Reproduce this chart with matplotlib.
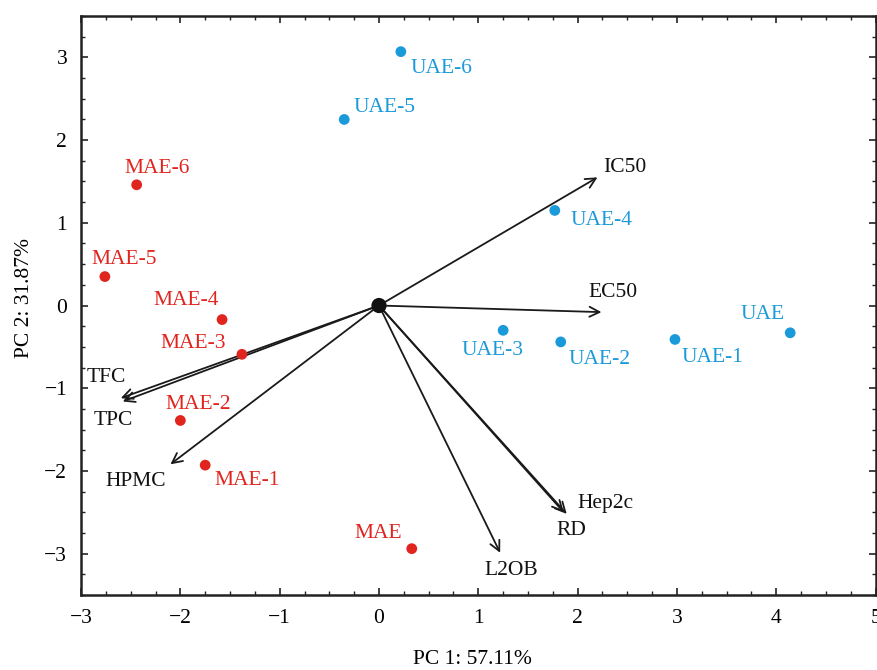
import numpy as np
import matplotlib.pyplot as plt
from matplotlib.ticker import MultipleLocator

plt.rcParams['font.family'] = ['Liberation Serif', 'DejaVu Serif']

# sample scores
mae_names = ['MAE', 'MAE-1', 'MAE-2', 'MAE-3', 'MAE-4', 'MAE-5', 'MAE-6']
mae_x = [0.33, -1.75, -2.0, -1.38, -1.58, -2.76, -2.44]
mae_y = [-2.94, -1.93, -1.39, -0.59, -0.17, 0.35, 1.46]

uae_names = ['UAE', 'UAE-1', 'UAE-2', 'UAE-3', 'UAE-4', 'UAE-5', 'UAE-6']
uae_x = [4.14, 2.98, 1.83, 1.25, 1.77, -0.35, 0.22]
uae_y = [-0.33, -0.41, -0.44, -0.30, 1.15, 2.25, 3.07]

# variable loadings (scaled)
var_names = ['IC50', 'EC50', 'TFC', 'TPC', 'HPMC', 'L2OB', 'Hep2c', 'RD']
var_x = [2.2, 2.24, -2.6, -2.58, -2.1, 1.22, 1.89, 1.86]
var_y = [1.55, -0.08, -1.12, -1.16, -1.92, -2.99, -2.52, -2.5]

# label offsets (data units) from each point / arrow tip
mae_off = [(-0.58, 0.18), (0.09, -0.19), (-0.15, 0.19), (-0.82, 0.13), (-0.69, 0.23), (-0.14, 0.21), (-0.12, 0.2)]
uae_off = [(-0.5, 0.22), (0.07, -0.22), (0.08, -0.21), (-0.42, -0.24), (0.16, -0.12), (0.09, 0.14), (0.1, -0.2)]
var_off = [(0.06, 0.12), (-0.13, 0.24), (-0.34, 0.25), (-0.29, -0.23), (-0.65, -0.21), (-0.16, -0.21), (0.11, 0.13), (-0.07, -0.22)]

red = '#E0251F'
blue = '#1B9AD9'
fs = 15.5

fig = plt.figure(figsize=(8.77, 6.70), dpi=100)
ax = fig.add_axes([0.0924, 0.112, 0.906, 0.864])

for vx, vy in zip(var_x, var_y):
    ax.annotate('', xy=(vx, vy), xytext=(0, 0),
                arrowprops=dict(arrowstyle='->', color='#1a1a1a', lw=1.3,
                                mutation_scale=18, shrinkA=0, shrinkB=0))
for name, vx, vy, (dx, dy) in zip(var_names, var_x, var_y, var_off):
    ax.text(vx + dx, vy + dy, name, fontsize=fs, color='#111111', va='center', ha='left')

ax.scatter(mae_x, mae_y, s=60, color=red, zorder=3, edgecolors='none')
ax.scatter(uae_x, uae_y, s=60, color=blue, zorder=3, edgecolors='none')
ax.scatter([0], [0], s=120, color='#111111', zorder=4, edgecolors='none')

for name, px, py, (dx, dy) in zip(mae_names, mae_x, mae_y, mae_off):
    ax.text(px + dx, py + dy, name, fontsize=fs, color=red, va='center', ha='left')
for name, px, py, (dx, dy) in zip(uae_names, uae_x, uae_y, uae_off):
    ax.text(px + dx, py + dy, name, fontsize=fs, color=blue, va='center', ha='left')

ax.set_xlim(-3, 5)
ax.set_ylim(-3.5, 3.5)
ax.xaxis.set_major_locator(MultipleLocator(1))
ax.xaxis.set_minor_locator(MultipleLocator(0.25))
ax.yaxis.set_major_locator(MultipleLocator(1))
ax.yaxis.set_minor_locator(MultipleLocator(0.25))
ax.tick_params(which='both', direction='in', top=True, right=True, labelsize=fs, color='#222222')
ax.tick_params(which='major', length=5, width=1.2, pad=10)
ax.tick_params(which='minor', length=3, width=1)
ax.set_xticklabels([f'{int(t)}'.replace('-', '\u2212') for t in ax.get_xticks()])
ax.set_yticklabels([f'{int(t)}'.replace('-', '\u2212') for t in ax.get_yticks()])
for sp in ax.spines.values():
    sp.set_linewidth(1.8)
    sp.set_color('#222222')

fig.text(0.539, 0.016, 'PC 1: 57.11%', fontsize=fs, ha='center', va='center')
fig.text(0.0285, 0.555, 'PC 2: 31.87%', fontsize=fs, ha='center', va='center', rotation=90)

plt.savefig('out.png', dpi=100)
